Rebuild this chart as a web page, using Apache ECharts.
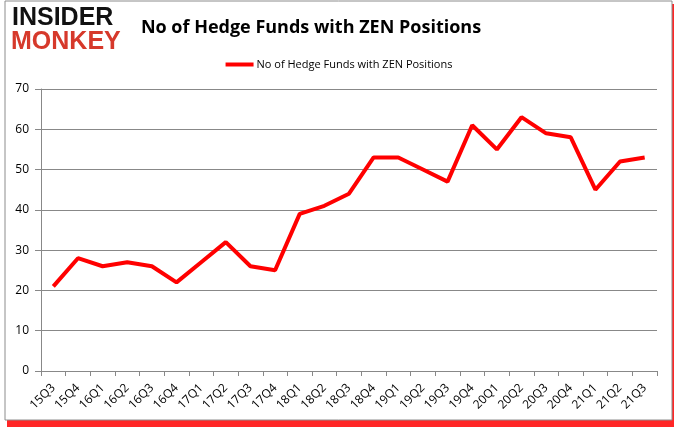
<!DOCTYPE html>
<html><head><meta charset="utf-8">
<script src="https://cdn.jsdelivr.net/npm/echarts@6/dist/echarts.min.js"></script>
<style>html,body{margin:0;padding:0;background:#fff}#c{width:678px;height:431px}</style>
</head><body><div id="c"></div>
<script>
const categories = ['15Q3','15Q4','16Q1','16Q2','16Q3','16Q4','17Q1','17Q2','17Q3','17Q4','18Q1','18Q2','18Q3','18Q4','19Q1','19Q2','19Q3','19Q4','20Q1','20Q2','20Q3','20Q4','21Q1','21Q2','21Q3'];
const funds = [21,28,26,27,26,22,27,32,26,25,39,41,44,53,53,50,47,61,55,63,59,58,45,52,53];
const seriesName = 'No of Hedge Funds with ZEN Positions';
const titleText = 'No of Hedge Funds with ZEN Positions';

const chart = echarts.init(document.getElementById('c'));
chart.setOption({
  animation: false,
  backgroundColor: '#fff',
  graphic: [
    {type:'rect', shape:{x:7,y:4,width:667,height:423}, style:{fill:'rgba(255,0,0,0.85)'}, z:-10, silent:true},
    {type:'rect', shape:{x:5,y:1,width:667,height:419}, style:{fill:'#fff', stroke:'#8c8c8c', lineWidth:1}, z:-9, silent:true},
    {type:'text', left:12, top:6, style:{text:'INSIDER', fill:'#111', font:'900 25px "Liberation Sans"'}, z:10},
    {type:'text', left:11, top:30, style:{text:'MONKEY', fill:'#d6392b', font:'900 25px "Liberation Sans"'}, z:10}
  ],
  title: {
    text: titleText, left: 306, top: 14, textAlign: 'center',
    textStyle: {fontFamily: '"Open Sans"', fontWeight: 'bold', fontSize: 18, color: '#000'}
  },
  legend: {
    data: [seriesName], top: 54, left: 'center',
    itemWidth: 28, itemHeight: 4, icon: 'rect', itemGap: 4,
    textStyle: {fontFamily: '"Open Sans"', fontSize: 11, color: '#000', padding: [0,0,0,-2]}
  },
  grid: {left: 41, right: 21, top: 89, bottom: 60},
  xAxis: {
    type: 'category', data: categories, boundaryGap: true,
    axisLine: {lineStyle: {color: '#888'}},
    axisTick: {show: true, length: 5, alignWithLabel: false, lineStyle: {color: '#888'}},
    axisLabel: {rotate: 45, fontFamily: '"Open Sans"', fontSize: 12, color: '#000', interval: 0, margin: 15}
  },
  yAxis: {
    type: 'value', min: 0, max: 70, interval: 10,
    axisLine: {show: true, lineStyle: {color: '#888'}},
    axisTick: {show: true, length: 6, lineStyle: {color: '#888'}},
    splitLine: {lineStyle: {color: '#888', width: 1}},
    axisLabel: {fontFamily: '"Open Sans"', fontSize: 12, color: '#000', margin: 12}
  },
  series: [{
    name: seriesName, type: 'line', data: funds,
    symbol: 'none', lineStyle: {color: '#ff0000', width: 4}, itemStyle: {color: '#ff0000'}
  }]
});
</script></body></html>
